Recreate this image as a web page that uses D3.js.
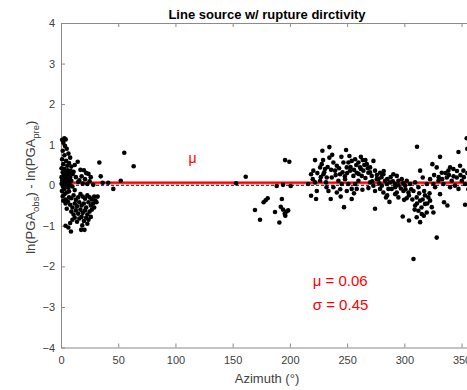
<!DOCTYPE html>
<html>
<head>
<meta charset="utf-8">
<script src="https://cdn.jsdelivr.net/npm/d3@7"></script>
<style>
  body { margin: 0; background: #fff; }
  svg { display: block; font-family: "Liberation Sans", Arial, sans-serif; }
</style>
</head>
<body>
<div id="chart"></div>
<script>
(function() {
// axis ticks
let xTicks = [0, 50, 100, 150, 200, 250, 300, 350];
let yTicks = [-4, -3, -2, -1, 0, 1, 2, 3, 4];

// fitted stats
let mu = 0.06;
let sigma = 0.45;

// residuals: [azimuth, ln(obs) - ln(pre)]
let nearAz = [
  [1,1.12],[2.9,1.16],[4.1,1.13],[2,1.05],[3.5,0.97],[5,0.9],[1.5,0.85],[6.5,0.78],[3,0.74],[8,0.68],
  [1,0.64],[4.5,0.6],[7,0.55],[2,0.52],[5.5,0.48],[9,0.46],[0.5,0.42],[3,0.4],[6,0.37],[8.5,0.35],
  [1.5,0.32],[4,0.3],[7,0.28],[10,0.27],[2.5,0.24],[5,0.22],[0.5,0.2],[8,0.19],[3.5,0.16],[6,0.14],
  [1,0.12],[9,0.11],[4.5,0.09],[2,0.07],[7,0.06],[0.5,0.04],[5.5,0.03],[3,0.01],[8,0.0],[1.5,-0.02],
  [10,-0.03],[4,-0.05],[6.5,-0.06],[2.5,-0.1],[0.8,-0.14],[5,-0.18],[3,-0.22],[1.5,-0.27],[7,-0.3],[4,-0.35],
  [2,-0.38],[14.6,0.58],[12,0.5],[17,0.38],[20,0.37],[22,0.3],[18,0.22],[24,0.28],[26,0.2],[21,0.15],
  [25,0.1],[13,0.2],[15,0.08],[28.2,0.01],[19,0.04],[23,0.03],[11,0.33],[16,0.12],
  [6,-0.4],[9,-0.32],[11,-0.25],[13,-0.36],[15,-0.3],[17,-0.22],[19,-0.28],[21,-0.33],[23,-0.25],[25,-0.3],
  [27,-0.35],[29,-0.28],[8,-0.48],[10,-0.55],[12,-0.45],[14,-0.52],[16,-0.42],[18,-0.5],[20,-0.45],[22,-0.55],
  [24,-0.42],[26,-0.5],[28,-0.45],[30,-0.38],[9,-0.65],[11,-0.72],[13,-0.62],[15,-0.7],[17,-0.6],[19,-0.68],
  [21,-0.62],[23,-0.72],[25,-0.65],[27,-0.6],[29,-0.55],[10,-0.85],[12,-0.8],[14,-0.9],[16,-0.82],[18,-0.78],
  [20,-0.88],[22,-0.8],[24,-0.85],[26,-0.78],[18.6,-0.99],[20.5,-1.1],[23,-0.95],[8,-0.93],[6.4,-1.04],[8.7,-1.14],
  [4,-1.0],[17.6,-1.1],[31,-0.42],[32,-0.28],[7,-0.15],[12,-0.12],[5,-0.58],[4,-0.45]
];

let midAz = [
  [33.5,0.56],[34.7,0.22],[36.4,0.06],[41.3,0.06],[45.7,-0.09],[52.2,0.11],[55.3,0.8],[63.5,0.47],
  [153,0.05],[161.4,0.21],[169.5,-0.61],[173.9,-0.85],[177,-0.42],[178.8,-0.37],[180.6,-0.32],[187,-0.66],
  [190.8,-0.92],[188.5,-0.02],[193,-0.34],[192,-0.53],[194,-0.6],[196,-0.75],[197,-0.65],[198.5,-0.62],
  [195.5,-0.7],[195.8,0.62],[199.5,0.58],[194,0.01],[200.7,-0.02],[216,0.03]
];

let farAz = [
  [222,0.62],[218.5,0.27],[220.5,0.36],[220,0.15],[222,0.07],[218.5,-0.26],[222.9,-0.34],[223.5,-0.14],[226.4,0.11],[228.4,0.85],
  [226.4,0.44],[230.7,0.40],[229.3,0.27],[231.6,0.07],[233.7,-0.14],[235.7,-0.34],[232.2,0.19],[227.8,0.52],[234.5,0.94],[234.5,0.68],
  [238,0.56],[241,0.48],[239.5,0.36],[243.8,0.27],[242.4,0.11],[245.3,0.03],[238,-0.05],[241,-0.18],[247.3,-0.54],[244.4,-0.28],
  [236.6,0.19],[249.1,0.87],[246.8,0.56],[251.1,0.56],[254,0.60],[249.7,0.44],[252.6,0.36],[255.5,0.23],[248.2,0.15],[251.1,0.03],
  [254,-0.09],[254,-0.34],[249.7,-0.14],[257,0.64],[259.9,0.56],[263.7,0.62],[261.3,0.44],[258.4,0.31],[264.2,0.36],[262.8,0.23],
  [259.9,0.11],[257,0.03],[263.4,-0.11],[258.4,-0.09],[267.2,0.52],[273,0.60],[270.1,0.44],[268.6,0.31],[271.5,0.23],[274.4,0.36],
  [275.9,0.15],[270.1,0.07],[273,-0.01],[274.4,-0.14],[268.6,-0.07],[274.4,-0.58],[278.8,0.31],[281.7,0.27],[277.3,0.15],[283.2,0.11],
  [280.3,-0.01],[284.6,0.03],[278.8,-0.09],[281.7,-0.18],[286.1,-0.09],[284,-0.30],[290.4,0.27],[293.4,0.23],[287.5,0.07],[291.9,0.03],
  [294.8,0.11],[289,-0.09],[293.4,-0.18],[287,-0.41],[294.8,-0.30],[297.7,0.15],[302.1,0.11],[300.7,-0.01],[305,0.03],[299.2,-0.14],
  [303.6,-0.18],[299.8,-0.36],[298.6,-0.77],[304.1,-0.87],[311.1,0.95],[313.8,0.36],[309.4,0.07],[312.3,-0.05],[308,-0.14],[310.8,-0.30],
  [313.8,-0.38],[309.4,-0.50],[312.3,-0.63],[315.2,-0.71],[310.8,-0.79],[313.8,-0.91],[308,-1.82],[316.1,0.19],[319.6,0.03],[317.3,-0.14],
  [321,-0.30],[322.5,-0.38],[318.1,-0.46],[324,-0.54],[319.6,-0.67],[325.4,0.03],[322.5,0.15],[324.5,0.52],[328.3,0.44],[331.2,0.70],
  [332.7,0.31],[329.8,0.11],[326.9,-0.05],[334.2,0.03],[328.3,-1.29],[334.7,-0.42],[331.2,-0.22],[325.4,-0.67],[338.5,0.36],[342.9,0.40],
  [337.1,0.19],[341.4,0.11],[340,-0.05],[344.3,-0.01],[337.6,-0.50],[340,0.44],[347.3,0.82],[348.7,0.48],[351.6,0.36],[350.2,0.11],
  [353.1,0.03],[347.3,-0.09],[353.1,-0.48],[354.5,1.16],[345.8,0.19],[355,0.9],
  [224,0.3],[227,0.2],[230,0.32],[233,0.45],[236,0.38],[240,0.25],[243,0.42],[246,0.32],[248,0.22],[250,0.3],
  [253,0.45],[256,0.38],[258,0.5],[260,0.28],[262,0.4],[265,0.5],[266,0.18],[268,0.42],[270,0.32],[272,0.1],
  [276,0.25],[278,0.05],[280,0.2],[282,0.35],[285,0.15],[288,0.2],[290,0.1],[292,-0.05],[295,0.0],[297,-0.08],
  [299,0.05],[301,-0.1],[304,-0.25],[306,-0.1],[307,-0.35],[309,-0.6],[311,-0.45],[313,-0.2],[315,-0.55],[316,-0.35],
  [317,-0.75],[318,-0.25],[320,-0.45],[322,-0.2],[326,0.25],[330,0.2],[333,0.15],[336,0.3],[339,0.25],[343,0.22],
  [346,0.35],[349,0.25],[352,0.2],[355,0.3],[357,0.12],[356,-0.1],[229,0.62],[237,0.75],[245,0.7],[252,0.72],
  [262,0.7],[266,0.62],[232,-0.05],[244,-0.1],[256,-0.2],[285,-0.25],[292,-0.22],[302,-0.32]
];

let allPoints = nearAz.concat(midAz, farAz);

//svg params
let width = 467, height = 390;
let margin = { top: 23, right: -6, bottom: 42.5, left: 61 };
let plotW = width - margin.left - margin.right;
let plotH = height - margin.top - margin.bottom;

let svg = d3.select('#chart')
  .append('svg')
  .attr('width', width)
  .attr('height', height);

let x = d3.scaleLinear().domain([0, 360]).range([margin.left, margin.left + plotW]);
let y = d3.scaleLinear().domain([-4, 4]).range([margin.top + plotH, margin.top]);

let axisColor = '#8a8a8a';
let textColor = '#404040';

// axes, ticks pointing in
function styleAxis(g) {
  g.select('.domain').attr('stroke', axisColor).attr('stroke-width', 1);
  g.selectAll('.tick line').attr('stroke', axisColor);
  g.selectAll('.tick text').attr('fill', textColor).attr('font-size', '11px')
    .attr('font-family', '"Liberation Sans", Arial, sans-serif');
}

svg.append('g')
  .attr('transform', 'translate(0,' + y(-4) + ')')
  .call(d3.axisBottom(x).tickValues(xTicks).tickSizeInner(-4).tickSizeOuter(0).tickPadding(9))
  .call(styleAxis);

svg.append('g')
  .attr('transform', 'translate(0,' + y(4) + ')')
  .call(d3.axisTop(x).tickValues(xTicks).tickSizeInner(-4).tickSizeOuter(0).tickFormat(''))
  .call(styleAxis);

svg.append('g')
  .attr('transform', 'translate(' + x(0) + ',0)')
  .call(d3.axisLeft(y).tickValues(yTicks).tickSizeInner(-4).tickSizeOuter(0).tickPadding(6))
  .call(styleAxis);

svg.append('g')
  .attr('transform', 'translate(' + x(360) + ',0)')
  .call(d3.axisRight(y).tickValues(yTicks).tickSizeInner(-4).tickSizeOuter(0).tickFormat(''))
  .call(styleAxis);

// zero reference, dashed
svg.append('line')
  .attr('x1', x(0)).attr('x2', x(360))
  .attr('y1', y(0)).attr('y2', y(0))
  .attr('stroke', '#444')
  .attr('stroke-width', 1.5)
  .attr('stroke-dasharray', '3,2');

// mean line
svg.append('line')
  .attr('x1', x(0)).attr('x2', x(360))
  .attr('y1', y(mu)).attr('y2', y(mu))
  .attr('stroke', '#ff9a9a')
  .attr('stroke-width', 3.5);
svg.append('line')
  .attr('x1', x(0)).attr('x2', x(360))
  .attr('y1', y(mu)).attr('y2', y(mu))
  .attr('stroke', '#ff0000')
  .attr('stroke-width', 2);

// scatter
svg.append('g')
  .selectAll('circle')
  .data(allPoints)
  .enter()
  .append('circle')
  .attr('cx', d => x(d[0]))
  .attr('cy', d => y(d[1]))
  .attr('r', 2.3)
  .attr('fill', '#000');

// labels
svg.append('text')
  .attr('x', x(115)).attr('y', y(0.55))
  .attr('text-anchor', 'middle')
  .attr('font-size', '14px')
  .attr('fill', '#ff0000')
  .text('μ');

svg.append('text')
  .attr('x', x(220)).attr('y', y(-2.48))
  .attr('font-size', '15px')
  .attr('fill', '#ff0000')
  .text('μ = ' + mu.toFixed(2));

svg.append('text')
  .attr('x', x(220)).attr('y', y(-3.07))
  .attr('font-size', '15px')
  .attr('fill', '#ff0000')
  .text('σ = ' + sigma.toFixed(2));

svg.append('text')
  .attr('x', x(180)).attr('y', 18.5)
  .attr('text-anchor', 'middle')
  .attr('font-size', '13px')
  .attr('font-weight', 'bold')
  .attr('fill', '#000')
  .text('Line source w/ rupture dirctivity');

svg.append('text')
  .attr('x', x(180)).attr('y', 382.5)
  .attr('text-anchor', 'middle')
  .attr('font-size', '13px')
  .attr('fill', textColor)
  .text('Azimuth (°)');

let yLab = svg.append('text')
  .attr('transform', 'translate(35,' + y(-0.05) + ') rotate(-90)')
  .attr('text-anchor', 'middle')
  .attr('font-size', '13px')
  .attr('fill', textColor);
yLab.append('tspan').text('ln(PGA');
yLab.append('tspan').attr('font-size', '9.5px').attr('dy', 4).text('obs');
yLab.append('tspan').attr('dy', -4).text(') - ln(PGA');
yLab.append('tspan').attr('font-size', '9.5px').attr('dy', 4).text('pre');
yLab.append('tspan').attr('dy', -4).text(')');
})();
</script>
</body>
</html>
